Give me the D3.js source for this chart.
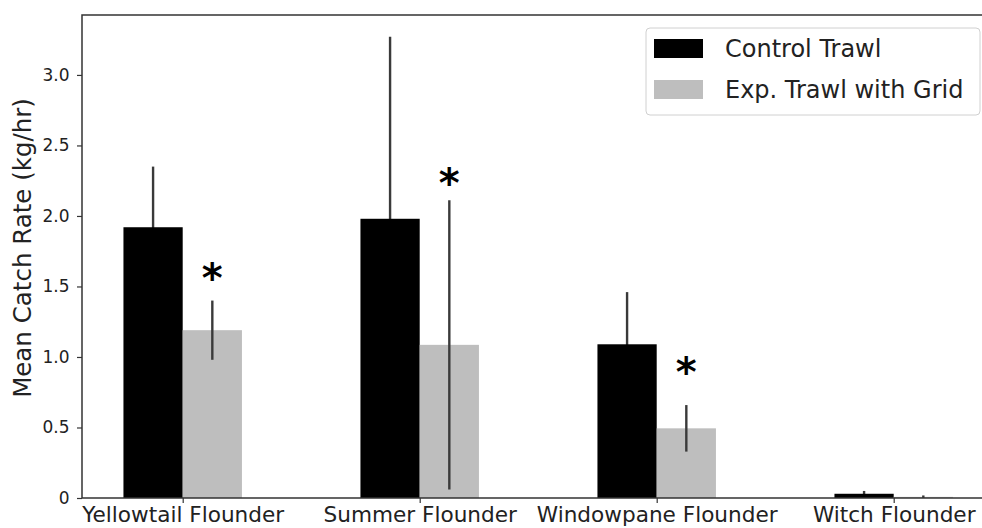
<!DOCTYPE html>
<html>
<head>
<meta charset="utf-8">
<script src="https://cdn.jsdelivr.net/npm/d3@7"></script>
<style>
  html, body { margin: 0; padding: 0; background: #fff; }
  svg { display: block; font-family: "DejaVu Sans", sans-serif; }
</style>
</head>
<body>
<svg id="chart" width="982" height="528"></svg>
<script>
// Species and series
const species = ["Yellowtail Flounder", "Summer Flounder", "Windowpane Flounder", "Witch Flounder"];
const seriesNames = ["Control Trawl", "Exp. Trawl with Grid"];
const controlMean = [1.92, 1.98, 1.09, 0.03];
const controlErr = [0.43, 1.29, 0.37, 0.02];
const gridMean = [1.19, 1.086, 0.494, 0.008];
const gridErr = [0.21, 1.025, 0.165, 0.01];
// Significance markers (over the grid-trawl bars)
const starY = [1.62, 2.29, 0.95, null];
const yTicks = [0, 0.5, 1.0, 1.5, 2.0, 2.5, 3.0];
const yTickLabels = ["0", "0.5", "1.0", "1.5", "2.0", "2.5", "3.0"];
const colors = ["#000000", "#bebebe"];

const svg = d3.select("#chart");
const plotLeft = 82, plotTop = 15, plotBottom = 498, plotRight = 994;

const x = d3.scalePoint().domain(species).range([182.7, 893.7]);
const step = x.step();
const barW = step * 0.25;
const y = d3.scaleLinear().domain([0, 3.425]).range([plotBottom, plotTop]);

const g = svg.append("g");

const series = [
  { name: seriesNames[0], mean: controlMean, err: controlErr, color: colors[0], off: -barW },
  { name: seriesNames[1], mean: gridMean, err: gridErr, color: colors[1], off: 0 }
];

function drawErr(s) {
  g.selectAll(null).data(species).enter().append("line")
    .attr("x1", d => x(d) + s.off + barW / 2)
    .attr("x2", d => x(d) + s.off + barW / 2)
    .attr("y1", (d, i) => y(Math.max(0, s.mean[i] - s.err[i])))
    .attr("y2", (d, i) => y(s.mean[i] + s.err[i]))
    .attr("stroke", "#3a3a3a")
    .attr("stroke-width", 2.4);
}
function drawBars(s) {
  g.selectAll(null).data(species).enter().append("rect")
    .attr("x", d => x(d) + s.off)
    .attr("width", barW)
    .attr("y", (d, i) => y(s.mean[i]))
    .attr("height", (d, i) => y(0) - y(s.mean[i]))
    .attr("fill", s.color);
}
// control whiskers sit behind the black bars; grid whiskers on top of grey bars
drawErr(series[0]);
drawBars(series[0]);
drawBars(series[1]);
drawErr(series[1]);

// asterisks
const starred = species.map((d, i) => ({ d, v: starY[i] })).filter(o => o.v != null);
g.selectAll(null).data(starred).enter().append("text")
  .attr("x", o => x(o.d) + barW / 2)
  .attr("y", o => y(o.v))
  .attr("text-anchor", "middle")
  .attr("font-size", 40)
  .attr("font-weight", "bold")
  .attr("dy", "0.55em")
  .text("*");

// axes
const yAxis = d3.axisLeft(y).tickValues(yTicks).tickFormat((d, i) => yTickLabels[i]).tickSize(5).tickPadding(7.5);
const ya = svg.append("g").attr("transform", `translate(${plotLeft},0)`).call(yAxis);
ya.select(".domain").remove();
ya.selectAll(".tick line").attr("stroke", "#333").attr("stroke-width", 1.2);
ya.selectAll(".tick text").attr("font-size", 17).attr("fill", "#222").attr("font-family", "DejaVu Sans");

const xAxis = d3.axisBottom(x).tickSize(5).tickPadding(4);
const xa = svg.append("g").attr("transform", `translate(0,${plotBottom})`).call(xAxis);
xa.select(".domain").remove();
xa.selectAll(".tick line").attr("stroke", "#333").attr("stroke-width", 1.2);
xa.selectAll(".tick text").attr("font-size", 21.6).attr("fill", "#222").attr("font-family", "DejaVu Sans");

// spines
svg.append("path")
  .attr("d", `M${plotRight},${plotTop}H${plotLeft}V${plotBottom}H${plotRight}`)
  .attr("fill", "none").attr("stroke", "#333").attr("stroke-width", 1.5);

// y label
svg.append("text")
  .attr("transform", `translate(31,248) rotate(-90)`)
  .attr("text-anchor", "middle")
  .attr("font-size", 24.5)
  .attr("fill", "#222")
  .text("Mean Catch Rate (kg/hr)");

// legend
const lg = svg.append("g").attr("transform", "translate(646,28)");
lg.append("rect").attr("x", 0).attr("y", 0).attr("width", 334).attr("height", 87)
  .attr("rx", 4).attr("fill", "#fff").attr("fill-opacity", 0.8).attr("stroke", "#d0d0d0");
seriesNames.forEach((n, i) => {
  lg.append("rect").attr("x", 8).attr("y", 11 + i * 41).attr("width", 49).attr("height", 19).attr("fill", colors[i]);
  lg.append("text").attr("x", 79).attr("y", 20.5 + i * 41).attr("dominant-baseline", "central")
    .attr("font-size", 24).attr("fill", "#222").text(n);
});
</script>
</body>
</html>
